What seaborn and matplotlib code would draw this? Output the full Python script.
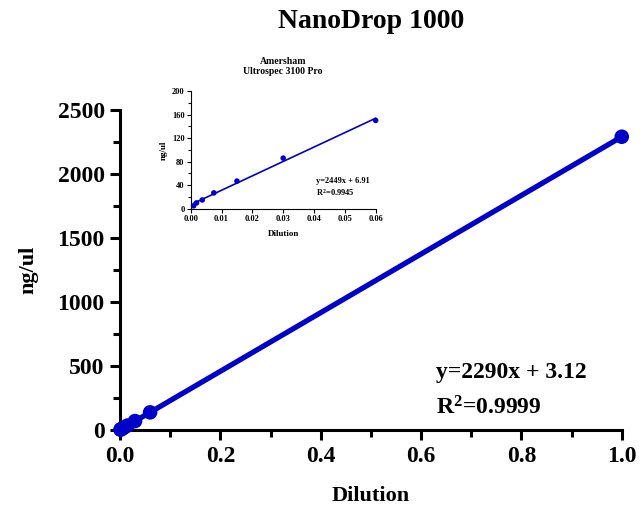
import numpy as np
import pandas as pd
import matplotlib
matplotlib.use('Agg')
import matplotlib.pyplot as plt
from matplotlib.ticker import MultipleLocator
import seaborn as sns

# NanoDrop 1000 dilution series
nano_dilution = [1.0, 0.06, 0.03, 0.015, 0.0075, 0.00375, 0.001875, 0.0009375]
nano_conc = [2293, 140, 72, 37, 20, 11, 7, 5]

# Amersham Ultrospec 3100 Pro dilution series
amer_dilution = [0.06, 0.03, 0.015, 0.0075, 0.00375, 0.001875, 0.0009375]
amer_conc = [150, 86, 47, 27, 15, 10, 5]

nano_eq = ['y=2290x + 3.12', 'R$^2$=0.9999']
amer_eq = ['y=2449x + 6.91', 'R$^2$=0.9945']

blue = '#0000c8'

sns.set_style('ticks')
plt.rcParams['font.family'] = ['Liberation Serif', 'DejaVu Serif']
plt.rcParams['font.weight'] = 'bold'
plt.rcParams['text.color'] = 'black'
plt.rcParams['axes.labelcolor'] = 'black'
plt.rcParams['xtick.color'] = 'black'
plt.rcParams['ytick.color'] = 'black'
plt.rcParams['axes.edgecolor'] = 'black'
plt.rcParams['mathtext.fontset'] = 'custom'
plt.rcParams['mathtext.rm'] = 'Liberation Serif:bold'
plt.rcParams['mathtext.it'] = 'Liberation Serif:bold'
plt.rcParams['mathtext.bf'] = 'Liberation Serif:bold'

nano = pd.DataFrame({'Dilution': nano_dilution, 'ng/ul': nano_conc})
amer = pd.DataFrame({'Dilution': amer_dilution, 'ng/ul': amer_conc})

fig = plt.figure(figsize=(6.4, 5.08), dpi=100)
ax = fig.add_axes([0.1875, 0.153, 0.784, 0.63])

# --- main plot ---
sns.regplot(data=nano, x='Dilution', y='ng/ul', ax=ax, ci=None, color=blue,
            scatter_kws={'s': 110, 'alpha': 1, 'edgecolor': 'none', 'clip_on': False, 'zorder': 5},
            line_kws={'lw': 3.8, 'clip_on': False}, truncate=True)
ax.set_xlim(0, 1.0)
ax.set_ylim(0, 2500)
ax.xaxis.set_major_locator(MultipleLocator(0.2))
ax.xaxis.set_minor_locator(MultipleLocator(0.1))
ax.yaxis.set_major_locator(MultipleLocator(500))
ax.yaxis.set_minor_locator(MultipleLocator(250))
ax.set_xticklabels([f'{v:.1f}' for v in ax.get_xticks()])
ax.tick_params(which='major', length=7, width=2.2, labelsize=17, pad=4)
ax.tick_params(which='minor', length=5, width=2.2)
for s in ['left', 'bottom']:
    ax.spines[s].set_linewidth(2.2)
sns.despine(ax=ax)
ax.set_xlabel('Dilution', fontsize=16, fontweight='bold', labelpad=14)
ax.set_ylabel('ng/ul', fontsize=16, fontweight='bold', labelpad=14)
fig.text(371 / 640, 1 - 22 / 508, 'NanoDrop 1000', fontsize=20, fontweight='bold',
         ha='center', va='center')
for i, t in enumerate(nano_eq):
    ax.text(0.63, 0.18 - i * 0.11, t, transform=ax.transAxes, fontsize=17,
            fontweight='bold', va='center')
for lab in ax.get_xticklabels() + ax.get_yticklabels():
    lab.set_fontweight('bold')

# --- inset ---
ins = fig.add_axes([0.298, 0.589, 0.289, 0.232])
sns.regplot(data=amer, x='Dilution', y='ng/ul', ax=ins, ci=None, color=blue,
            scatter_kws={'s': 16, 'alpha': 1, 'edgecolor': 'none', 'clip_on': False, 'zorder': 5},
            line_kws={'lw': 1.2, 'clip_on': False}, truncate=True)
ins.set_xlim(0, 0.06)
ins.set_ylim(0, 200)
ins.xaxis.set_major_locator(MultipleLocator(0.01))
ins.yaxis.set_major_locator(MultipleLocator(40))
ins.yaxis.set_minor_locator(MultipleLocator(20))
ins.set_xticklabels([f'{v:.2f}' for v in ins.get_xticks()])
ins.tick_params(which='major', length=3, width=0.8, labelsize=6, pad=1.5)
ins.tick_params(which='minor', length=2, width=0.8)
for s in ['left', 'bottom']:
    ins.spines[s].set_linewidth(0.8)
sns.despine(ax=ins)
ins.set_xlabel('Dilution', fontsize=6.5, fontweight='bold', labelpad=5)
ins.set_ylabel('ng/ul', fontsize=6.5, fontweight='bold', labelpad=3)
ins.set_title('Amersham\nUltrospec 3100 Pro', fontsize=7, fontweight='bold', pad=12)
for i, t in enumerate(amer_eq):
    ins.text(0.68, 0.24 - i * 0.1, t, transform=ins.transAxes, fontsize=6,
             fontweight='bold', va='center')
for lab in ins.get_xticklabels() + ins.get_yticklabels():
    lab.set_fontweight('bold')

fig.savefig('out.png', dpi=100)
